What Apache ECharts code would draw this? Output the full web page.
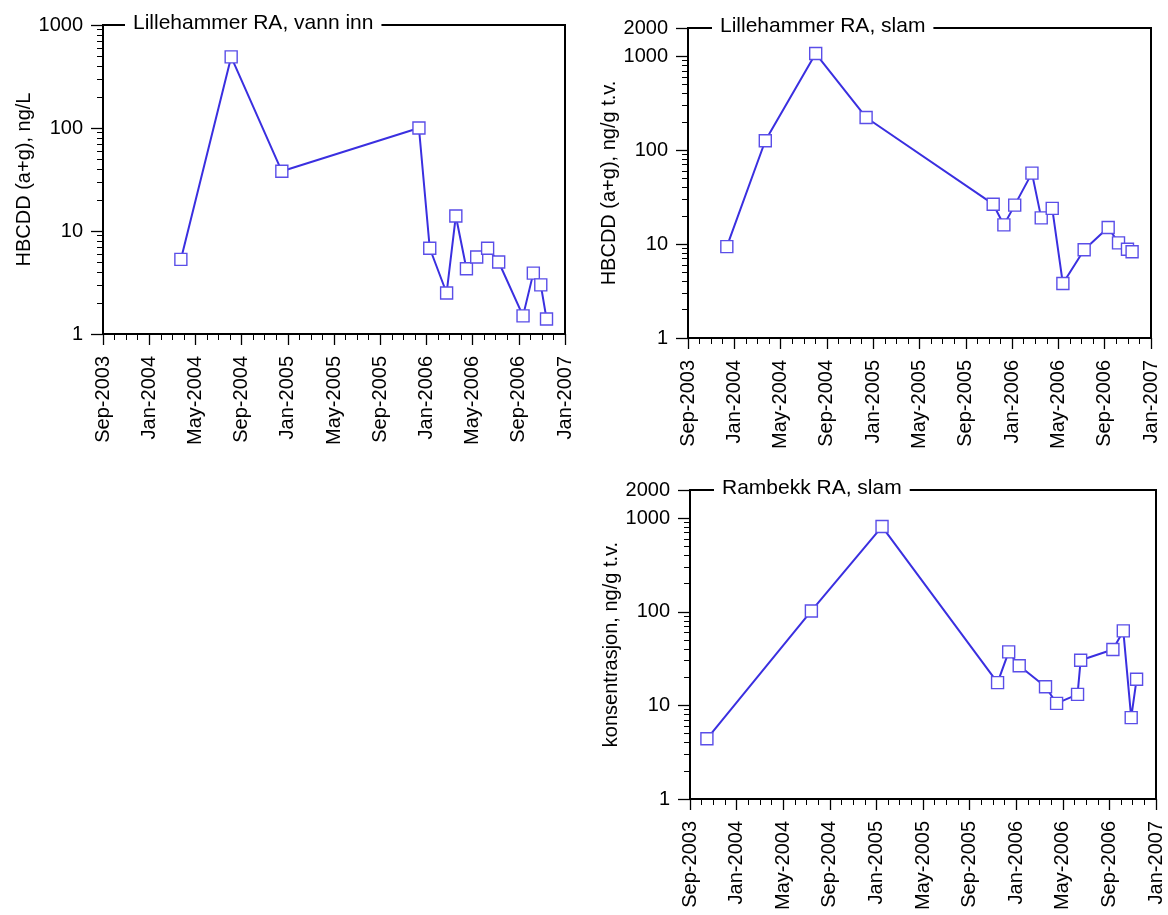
<!DOCTYPE html>
<html>
<head>
<meta charset="utf-8">
<script src="https://cdn.jsdelivr.net/npm/echarts@6/dist/echarts.min.js"></script>
<style>
html, body { margin: 0; padding: 0; background: #fff; }
#chart { width: 1168px; height: 915px; }
</style>
</head>
<body>
<div id="chart"></div>
<script>
// Tick labels along the time axis, one every four months
const monthLabels = ['Sep-2003', 'Jan-2004', 'May-2004', 'Sep-2004', 'Jan-2005', 'May-2005',
  'Sep-2005', 'Jan-2006', 'May-2006', 'Sep-2006', 'Jan-2007'];

// Lillehammer RA, vann inn (ng/L)
const innDates = ['2004-03-24', '2004-08-04', '2004-12-16', '2005-12-12', '2006-01-10',
  '2006-02-22', '2006-03-18', '2006-04-15', '2006-05-12', '2006-06-10', '2006-07-09',
  '2006-09-12', '2006-10-09', '2006-10-29', '2006-11-13'];
const innValues = [5.3, 490, 38, 100, 6.8, 2.5, 14, 4.3, 5.6, 6.8, 5.0, 1.5, 3.9, 3.0, 1.4];

// Lillehammer RA, slam (ng/g t.v.)
const slamDates = ['2003-12-12', '2004-03-22', '2004-08-02', '2004-12-13', '2005-11-12',
  '2005-12-10', '2006-01-08', '2006-02-21', '2006-03-17', '2006-04-15', '2006-05-13',
  '2006-07-08', '2006-09-10', '2006-10-07', '2006-10-31', '2006-11-12'];
const slamValues = [9.4, 126, 1070, 223, 26.6, 16, 26, 57, 19, 24, 3.8, 8.7, 15, 10.3, 8.8, 8.3];

// Rambekk RA, slam (ng/g t.v.)
const rambekkDates = ['2003-10-15', '2004-07-14', '2005-01-16', '2005-11-13', '2005-12-12',
  '2006-01-09', '2006-03-17', '2006-04-15', '2006-06-09', '2006-06-17', '2006-09-10',
  '2006-10-07', '2006-10-28', '2006-11-11'];
const rambekkValues = [4.4, 102, 814, 17.5, 37.3, 26.5, 15.8, 10.5, 13.1, 30.4, 39.6, 62.5, 7.4, 19];

// Log-axis tick values
const majorTicks1000 = [1, 10, 100, 1000];
const majorTicks2000 = [1, 10, 100, 1000, 2000];
const minorTicks = [2, 3, 4, 5, 6, 7, 8, 9, 20, 30, 40, 50, 60, 70, 80, 90,
  200, 300, 400, 500, 600, 700, 800, 900];

const FONT = '"Liberation Sans", Arial, Helvetica, sans-serif';
const FS = 20;
const TITLE_FS = 21;
const LINE_COLOR = '#3a2fe0';
const MARK_COLOR = '#5a4ee8';

// Months elapsed since 1 Sep 2003, with day fraction
function monthsFromStart(s) {
  const [y, m, d] = s.split('-').map(Number);
  const dim = new Date(y, m, 0).getDate();
  return (y - 2003) * 12 + (m - 9) + (d - 1) / dim;
}

function toPoints(dates, values) {
  return dates.map((d, i) => [monthsFromStart(d), values[i]]);
}

const grids = [
  { left: 103, top: 25, width: 462, height: 309 },
  { left: 688, top: 28, width: 463, height: 310 },
  { left: 690, top: 490, width: 466, height: 309 }
];

function xAxisFor(gridIndex) {
  return {
    type: 'value', gridIndex, min: 0, max: 40, interval: 4,
    axisLine: { show: true, onZero: false, lineStyle: { color: '#000', width: 2 } },
    axisTick: { show: true, inside: false, length: 11, lineStyle: { color: '#000', width: 1.3 } },
    minorTick: { show: true, splitNumber: 4, length: 6, lineStyle: { color: '#000', width: 1 } },
    splitLine: { show: false },
    axisLabel: {
      rotate: 90, margin: 22, fontSize: FS, fontFamily: FONT, color: '#000',
      formatter: v => monthLabels[Math.round(v / 4)]
    }
  };
}

function yMajorFor(gridIndex, max, ticks, name) {
  return {
    type: 'log', logBase: 10, gridIndex, min: 1, max, position: 'left',
    name, nameLocation: 'middle', nameGap: 56,
    nameTextStyle: { fontSize: FS, fontFamily: FONT, color: '#000' },
    axisLine: { show: true, lineStyle: { color: '#000', width: 2 } },
    axisTick: { show: true, length: 12, customValues: ticks, lineStyle: { color: '#000', width: 1.3 } },
    axisLabel: {
      customValues: ticks, margin: 20, fontSize: FS, fontFamily: FONT, color: '#000',
      formatter: v => String(Math.round(v))
    },
    splitLine: { show: false }
  };
}

function yMinorFor(gridIndex, max) {
  return {
    type: 'log', logBase: 10, gridIndex, min: 1, max, position: 'left',
    axisLine: { show: false },
    axisTick: { show: true, length: 6, customValues: minorTicks, lineStyle: { color: '#000', width: 1 } },
    axisLabel: { show: false },
    splitLine: { show: false }
  };
}

function titleFor(text, left, top) {
  return {
    text, left, top,
    backgroundColor: '#fff', padding: [0, 8],
    textStyle: { fontSize: TITLE_FS, fontWeight: 'normal', fontFamily: FONT, color: '#000', lineHeight: 21 }
  };
}

function seriesFor(xi, yi, points) {
  return {
    type: 'line', xAxisIndex: xi, yAxisIndex: yi, data: points,
    symbol: 'rect', symbolSize: 12, showSymbol: true,
    lineStyle: { color: LINE_COLOR, width: 2 },
    itemStyle: { color: '#fff', borderColor: MARK_COLOR, borderWidth: 1.4 },
    z: 3
  };
}

const chart = echarts.init(document.getElementById('chart'), null, { renderer: 'canvas' });
chart.setOption({
  animation: false,
  backgroundColor: '#fff',
  title: [
    titleFor('Lillehammer RA, vann inn', 125, 13),
    titleFor('Lillehammer RA, slam', 712, 16),
    titleFor('Rambekk RA, slam', 714, 478)
  ],
  grid: grids.map(g => Object.assign({ show: true, borderColor: '#000', borderWidth: 2, backgroundColor: 'transparent' }, g)),
  xAxis: [xAxisFor(0), xAxisFor(1), xAxisFor(2)],
  yAxis: [
    yMajorFor(0, 1000, majorTicks1000, 'HBCDD (a+g), ng/L'),
    yMinorFor(0, 1000),
    yMajorFor(1, 2000, majorTicks2000, 'HBCDD (a+g), ng/g t.v.'),
    yMinorFor(1, 2000),
    yMajorFor(2, 2000, majorTicks2000, 'konsentrasjon, ng/g t.v.'),
    yMinorFor(2, 2000)
  ],
  series: [
    seriesFor(0, 0, toPoints(innDates, innValues)),
    seriesFor(1, 2, toPoints(slamDates, slamValues)),
    seriesFor(2, 4, toPoints(rambekkDates, rambekkValues))
  ]
});
</script>
</body>
</html>
